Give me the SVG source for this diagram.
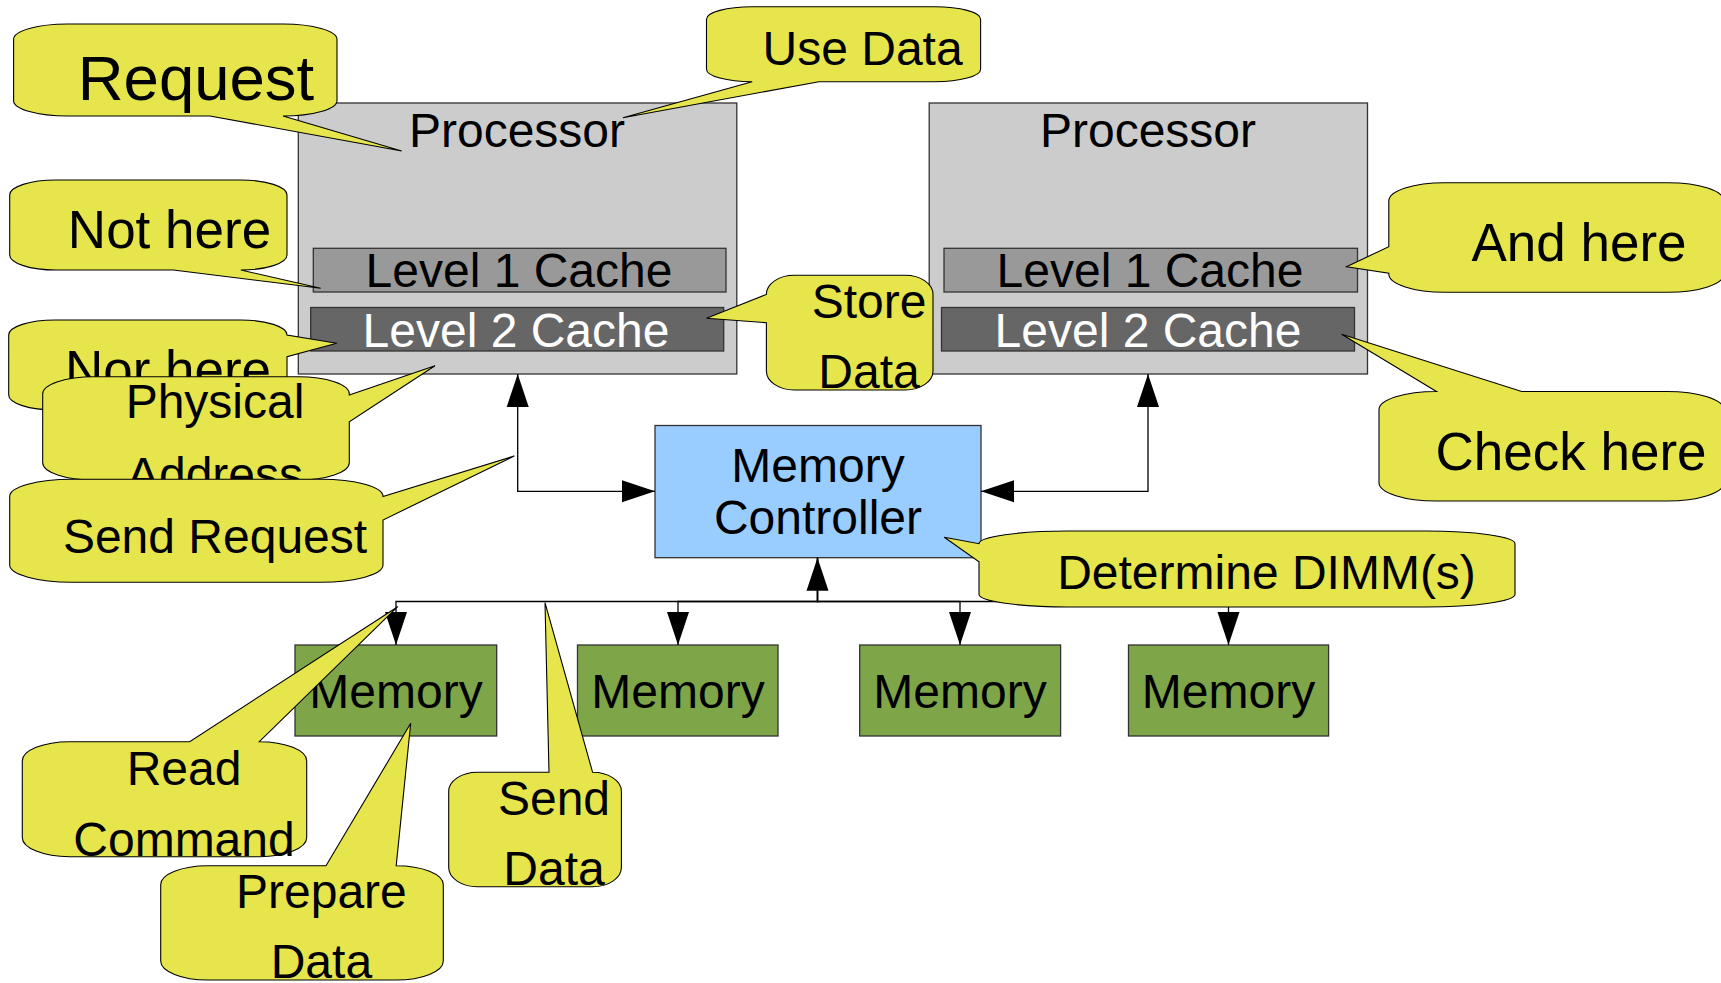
<svg xmlns="http://www.w3.org/2000/svg" width="1721" height="983" viewBox="0 0 1721 983">
<style>
text{font-family:"Liberation Sans",Arial,sans-serif;text-anchor:middle;fill:#000}
.proc{fill:#cccccc;stroke:#333;stroke-width:1.3}
.l1{fill:#999999;stroke:#333;stroke-width:1.3}
.l2{fill:#666666;stroke:#333;stroke-width:1.3}
.mc{fill:#99ccff;stroke:#333;stroke-width:1.3}
.mem{fill:#7ea648;stroke:#333;stroke-width:1.3}
.co{fill:#e6e64c;stroke:#000;stroke-width:1.1;stroke-linejoin:miter}
.conn{fill:none;stroke:#000;stroke-width:1.3}
.f47{font-size:48px}
.f52{font-size:53px}
.w{fill:#fff}
</style>
<defs>
<marker id="arr" markerUnits="userSpaceOnUse" markerWidth="34" markerHeight="24" refX="33" refY="11" orient="auto-start-reverse" viewBox="0 0 34 22">
<path d="M0,0 L33,11 L0,22 Z" fill="#000"/>
</marker>
</defs>

<g id="processor1">
<rect class="proc" x="298.3" y="103" width="438.5" height="271"/>
<text class="f47" x="517" y="147">Processor</text>
<rect class="l1" x="313.3" y="248.3" width="412.7" height="43.7"/>
<text class="f47" x="519" y="287">Level 1 Cache</text>
<rect class="l2" x="310.7" y="307.5" width="413" height="43.5"/>
<text class="f47 w" x="516" y="346.5">Level 2 Cache</text>
</g>

<g id="processor2">
<rect class="proc" x="929.2" y="103" width="438.3" height="271"/>
<text class="f47" x="1148" y="147">Processor</text>
<rect class="l1" x="944" y="248.3" width="413.5" height="43.7"/>
<text class="f47" x="1150" y="287">Level 1 Cache</text>
<rect class="l2" x="941.5" y="307.5" width="413" height="43.5"/>
<text class="f47 w" x="1148" y="346.5">Level 2 Cache</text>
</g>

<g id="memory-controller">
<rect class="mc" x="655" y="425.5" width="326" height="132.2"/>
<text class="f47" x="818" y="481.7">Memory</text>
<text class="f47" x="818" y="534">Controller</text>
</g>

<g id="memory1">
<rect class="mem" x="295" y="645" width="201.7" height="91"/>
<text class="f47" x="396" y="708">Memory</text>
</g>
<g id="memory2">
<rect class="mem" x="577.5" y="645" width="200.5" height="91"/>
<text class="f47" x="678" y="708">Memory</text>
</g>
<g id="memory3">
<rect class="mem" x="859.7" y="645" width="200.9" height="91"/>
<text class="f47" x="960" y="708">Memory</text>
</g>
<g id="memory4">
<rect class="mem" x="1128.5" y="645" width="200.1" height="91"/>
<text class="f47" x="1228.5" y="708">Memory</text>
</g>

<g id="connectors">
<path class="conn" d="M517.7,374 V491.3 H655" marker-start="url(#arr)" marker-end="url(#arr)"/>
<path class="conn" d="M1148,374 V491.3 H981" marker-start="url(#arr)" marker-end="url(#arr)"/>
<path class="conn" d="M817.5,557.7 V601.5 H396 V645" marker-start="url(#arr)" marker-end="url(#arr)"/>
<path class="conn" d="M817.5,557.7 V601.5 H678 V645" marker-end="url(#arr)"/>
<path class="conn" d="M817.5,557.7 V601.5 H960 V645" marker-end="url(#arr)"/>
<path class="conn" d="M817.5,557.7 V601.5 H1228.5 V645" marker-end="url(#arr)"/>
</g>

<g id="callout-request">
<path class="co" d="M67.6,24 H283 A54 15.3 0 0 1 337,39.3 V100.7 A54 15.3 0 0 1 283,116 L401.7,151 L210,116 H67.6 A54 15.3 0 0 1 13.6,100.7 V39.3 A54 15.3 0 0 1 67.6,24 Z"/>
<text x="196" y="100" font-size="63.5">Request</text>
</g>

<g id="callout-use-data">
<path class="co" d="M752.2,6.7 H934.9 A45.7 12.5 0 0 1 980.6,19.2 V69.2 A45.7 12.5 0 0 1 934.9,81.7 H819 L622.9,117.7 L752.2,81.7 A45.7 12.5 0 0 1 706.5,69.2 V19.2 A45.7 12.5 0 0 1 752.2,6.7 Z"/>
<text class="f47" x="862.6" y="65">Use Data</text>
</g>

<g id="callout-not-here">
<path class="co" d="M55.9,180 H240.8 A46.2 15 0 0 1 287,195 V255 A46.2 15 0 0 1 240.8,270 L320.7,288.3 L173.3,270 H55.9 A46.2 15 0 0 1 9.7,255 V195 A46.2 15 0 0 1 55.9,180 Z"/>
<text class="f52" x="169.5" y="248.3">Not here</text>
</g>

<g id="callout-nor-here">
<path class="co" d="M55.1,320 H240.6 A46.4 15 0 0 1 287,335 L336.7,343.3 L287,356.7 V395 A46.4 15 0 0 1 240.6,410 H55.1 A46.4 15 0 0 1 8.7,395 V335 A46.4 15 0 0 1 55.1,320 Z"/>
<text class="f52" x="168" y="388">Nor here</text>
</g>

<g id="callout-physical-address">
<path class="co" d="M93.8,376.7 H298.2 A51.1 17.2 0 0 1 349.3,393.9 V395 L435,365.7 L349.3,421.7 V462.8 A51.1 17.2 0 0 1 298.2,480 H93.8 A51.1 17.2 0 0 1 42.7,462.8 V393.9 A51.1 17.2 0 0 1 93.8,376.7 Z"/>
<text class="f47" x="215" y="418.3">Physical</text>
<text class="f47" x="215" y="491.3">Address</text>
</g>

<g id="callout-send-request">
<path class="co" d="M71.9,479.3 H320.8 A62.2 17.2 0 0 1 383,496.5 L514.3,456 L383,520 V565.1 A62.2 17.2 0 0 1 320.8,582.3 H71.9 A62.2 17.2 0 0 1 9.7,565.1 V496.5 A62.2 17.2 0 0 1 71.9,479.3 Z"/>
<text class="f47" x="215" y="553.3">Send Request</text>
</g>

<g id="callout-store-data">
<path class="co" d="M794.2,275.3 H905.2 A27.8 19.1 0 0 1 933,294.4 V370.9 A27.8 19.1 0 0 1 905.2,390 H794.2 A27.8 19.1 0 0 1 766.4,370.9 V322.7 L706.5,318.3 L766.4,294.4 A27.8 19.1 0 0 1 794.2,275.3 Z"/>
<text class="f47" x="869" y="318.3">Store</text>
<text class="f47" x="869" y="388.3">Data</text>
</g>

<g id="callout-and-here">
<path class="co" d="M1444.7,182.7 H1668.1 A55.9 18.3 0 0 1 1724,201 V274 A55.9 18.3 0 0 1 1668.1,292.3 H1444.7 A55.9 18.3 0 0 1 1388.8,274 V273.3 L1346.5,266.7 L1388.8,246.7 V201 A55.9 18.3 0 0 1 1444.7,182.7 Z"/>
<text class="f52" x="1579" y="260.7">And here</text>
</g>

<g id="callout-check-here">
<path class="co" d="M1436.5,391.5 L1341.7,334.3 L1521.7,391.5 H1666.5 A57.5 18.25 0 0 1 1724,409.75 V482.75 A57.5 18.25 0 0 1 1666.5,501 H1436.5 A57.5 18.25 0 0 1 1379,482.75 V409.75 A57.5 18.25 0 0 1 1436.5,391.5 Z"/>
<text class="f52" x="1571" y="470">Check here</text>
</g>

<g id="callout-determine-dimms">
<path class="co" d="M1068.3,531 H1425.7 A89.3 12.7 0 0 1 1515,543.7 V594.3 A89.3 12.7 0 0 1 1425.7,607 H1068.3 A89.3 12.7 0 0 1 979,594.3 V561.7 L944.3,537.3 L979,543.7 A89.3 12.7 0 0 1 1068.3,531 Z"/>
<text class="f47" x="1266.5" y="589.3">Determine DIMM(s)</text>
</g>

<g id="callout-read-command">
<path class="co" d="M69.7,741.7 H189.7 L397.7,606.7 L259.3,741.7 A47.4 19.2 0 0 1 306.7,760.9 V837.5 A47.4 19.2 0 0 1 259.3,856.7 H69.7 A47.4 19.2 0 0 1 22.3,837.5 V760.9 A47.4 19.2 0 0 1 69.7,741.7 Z"/>
<text class="f47" x="184" y="785">Read</text>
<text class="f47" x="184" y="856">Command</text>
</g>

<g id="callout-prepare-data">
<path class="co" d="M207.8,865.7 H326 L410.7,723.3 L396.2,865.7 A47.1 19 0 0 1 443.3,884.7 V961 A47.1 19 0 0 1 396.2,980 H207.8 A47.1 19 0 0 1 160.7,961 V884.7 A47.1 19 0 0 1 207.8,865.7 Z"/>
<text class="f47" x="321.4" y="908.3">Prepare</text>
<text class="f47" x="321.4" y="978.3">Data</text>
</g>

<g id="callout-send-data">
<path class="co" d="M477.5,772.3 H549 L545,602.7 L592.6,772.3 A28.8 19.1 0 0 1 621.4,791.4 V867.6 A28.8 19.1 0 0 1 592.6,886.7 H477.5 A28.8 19.1 0 0 1 448.7,867.6 V791.4 A28.8 19.1 0 0 1 477.5,772.3 Z"/>
<text class="f47" x="554" y="815">Send</text>
<text class="f47" x="554" y="885">Data</text>
</g>
</svg>
